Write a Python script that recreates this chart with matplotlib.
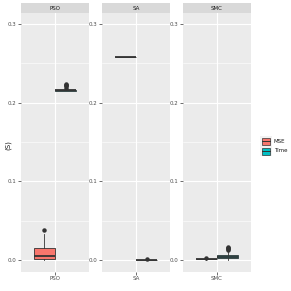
import numpy as np
import matplotlib
matplotlib.use('Agg')
import matplotlib.pyplot as plt
from matplotlib.patches import Rectangle

# summary stats, per method, per measure
methods = ['PSO', 'SA', 'SMC']
measures = ['MSE', 'Time']
colors = {'MSE': '#F8766D', 'Time': '#00BFC4'}

med = {'PSO': [0.005, 0.2160], 'SA': [0.2576, 0.0005], 'SMC': [0.0013, 0.0045]}
q1 = {'PSO': [0.002, 0.2155], 'SA': [0.2576, 0.0003], 'SMC': [0.0010, 0.0022]}
q3 = {'PSO': [0.016, 0.2168], 'SA': [0.2576, 0.0007], 'SMC': [0.0016, 0.0072]}
wlo = {'PSO': [0.0, 0.2148], 'SA': [0.2576, 0.0], 'SMC': [0.0006, 0.0]}
whi = {'PSO': [0.033, 0.2178], 'SA': [0.2576, 0.0012], 'SMC': [0.0020, 0.0120]}
fliers = {'PSO': [[0.038], [0.219, 0.221, 0.222, 0.223, 0.224]],
          'SA': [[], [0.0015]],
          'SMC': [[0.0022], [0.013, 0.014, 0.015, 0.016, 0.017]]}

yticks = [0.0, 0.1, 0.2, 0.3]
ylabel = '(S)'

W = 291.0
fig = plt.figure(figsize=(2.91, 2.91), dpi=100)
panel_x = [21, 102, 183]
pw = 68
top, bot = 13, 272
grey = '#4D4D4D'

for k, m in enumerate(methods):
    ax = fig.add_axes([panel_x[k] / W, 1 - bot / W, pw / W, (bot - top) / W])
    ax.set_facecolor('#EBEBEB')
    for s in ax.spines.values():
        s.set_visible(False)
    stats = []
    for j, meas in enumerate(measures):
        stats.append(dict(med=med[m][j], q1=q1[m][j], q3=q3[m][j],
                          whislo=wlo[m][j], whishi=whi[m][j],
                          fliers=fliers[m][j], label=meas))
    bp = ax.bxp(stats, positions=[1 - 0.1875, 1 + 0.1875], widths=0.375,
                patch_artist=True, showcaps=False,
                boxprops=dict(edgecolor='#333333', linewidth=0.6),
                medianprops=dict(color='#333333', linewidth=1.3),
                whiskerprops=dict(color='#333333', linewidth=0.6),
                flierprops=dict(marker='o', markerfacecolor='#333333',
                                markeredgecolor='#333333', markersize=2.2))
    for patch, meas in zip(bp['boxes'], measures):
        patch.set_facecolor(colors[meas])
        patch.set_zorder(3)
    for line in bp['medians'] + bp['whiskers'] + bp['fliers']:
        line.set_zorder(4)
    ax.set_xlim(0.4, 1.6)
    ax.set_ylim(-0.015, 0.314)
    ax.set_yticks(yticks)
    ax.set_yticklabels([f'{t:.1f}' for t in yticks])
    ax.set_yticks([0.05, 0.15, 0.25], minor=True)
    ax.set_xticks([1])
    ax.set_xticklabels([m])
    ax.grid(True, which='major', color='white', linewidth=0.8, zorder=0)
    ax.grid(True, which='minor', axis='y', color='white', linewidth=0.4, zorder=0)
    ax.set_axisbelow(True)
    ax.tick_params(which='major', length=2, width=0.5, color='#333333',
                   labelsize=4, labelcolor=grey, pad=1)
    ax.tick_params(which='minor', length=0)
    # facet strip
    sax = fig.add_axes([panel_x[k] / W, 1 - top / W, pw / W, 10 / W])
    sax.set_facecolor('#D9D9D9')
    sax.set_xticks([])
    sax.set_yticks([])
    for s in sax.spines.values():
        s.set_visible(False)
    sax.text(0.5, 0.5, m, ha='center', va='center', fontsize=4, color='#1A1A1A',
             transform=sax.transAxes)

fig.text(8 / W, 1 - 145 / W, ylabel, rotation=90, ha='center', va='center',
         fontsize=5, color='#1A1A1A')

# legend keys
for j, meas in enumerate(measures):
    yc = 141 + j * 10
    fig.patches.append(Rectangle((260 / W, 1 - (yc + 5) / W), 12 / W, 10 / W,
                                 transform=fig.transFigure, facecolor='#F2F2F2',
                                 edgecolor='none'))
    fig.patches.append(Rectangle((262 / W, 1 - (yc + 3.5) / W), 8 / W, 7 / W,
                                 transform=fig.transFigure, facecolor=colors[meas],
                                 edgecolor='#333333', linewidth=0.5))
    fig.lines.append(plt.Line2D([262 / W, 270 / W], [1 - yc / W, 1 - yc / W],
                                transform=fig.transFigure, color='#333333',
                                linewidth=0.7))
    fig.text(274 / W, 1 - yc / W, meas, ha='left', va='center', fontsize=4,
             color='#1A1A1A')

fig.savefig('out.png', dpi=100)
